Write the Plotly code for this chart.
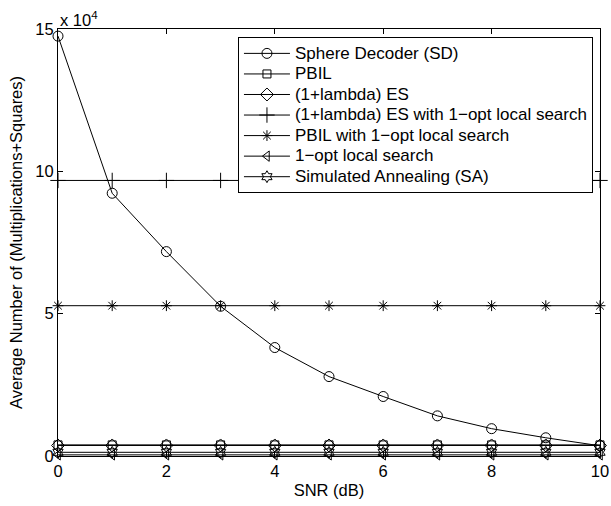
import plotly.graph_objects as go

snr = [0, 1, 2, 3, 4, 5, 6, 7, 8, 9, 10]

sd = [147500, 92300, 71800, 52600, 38100, 27900, 20900, 14100, 9600, 6400, 3600]
pbil = [3900] * 11
es = [3700] * 11
es_1opt = [96800] * 11
pbil_1opt = [52800] * 11
opt1 = [400] * 11
sa = [1300] * 11

names = [
    "Sphere Decoder (SD)",
    "PBIL",
    "(1+lambda) ES",
    "(1+lambda) ES with 1\u2212opt local search",
    "PBIL with 1\u2212opt local search",
    "1\u2212opt local search",
    "Simulated Annealing (SA)",
]
series = [sd, pbil, es, es_1opt, pbil_1opt, opt1, sa]
symbols = ["circle-open", "square-open", "diamond-open", "cross-thin-open",
           "asterisk-open", "triangle-left-open", "hexagram-open"]
sizes = [10, 8, 10, 11, 9, 9, 9]

y_ticks = [0, 50000, 100000, 150000]
y_ticktext = ["0", "5", "10", "15"]
x_ticks = [0, 2, 4, 6, 8, 10]

FONT = "Liberation Sans, Arial, Helvetica, sans-serif"
FS = 16.5

fig = go.Figure()
for nm, ys, sym, sz in zip(names, series, symbols, sizes):
    fig.add_trace(go.Scatter(
        x=snr, y=ys,
        name='<span style="font-size:17px">' + nm + '</span>',
        mode="lines+markers",
        line=dict(color="black", width=1),
        marker=dict(symbol=sym, size=sz, color="black",
                    line=dict(color="black", width=1)),
        cliponaxis=False,
    ))

fig.update_layout(
    width=611, height=506,
    margin=dict(l=58, r=11, t=29, b=50, autoexpand=False),
    paper_bgcolor="white", plot_bgcolor="white",
    font=dict(family=FONT, size=FS, color="black"),
    showlegend=True,
    legend=dict(
        x=0.987, y=0.981, xanchor="right", yanchor="top",
        bgcolor="white", bordercolor="black", borderwidth=1,
        font=dict(family=FONT, size=13.5, color="black"),
        tracegroupgap=0, itemwidth=46,
    ),
    xaxis=dict(
        range=[0, 10], tickvals=x_ticks, ticks="inside", ticklen=5,
        tickcolor="black", showline=True, linecolor="black", linewidth=1,
        mirror="ticks", showgrid=False, zeroline=False,
        title=dict(text="SNR (dB)", standoff=5, font=dict(size=FS)),
        tickfont=dict(size=FS),
    ),
    yaxis=dict(
        range=[0, 150000], tickvals=y_ticks, ticktext=y_ticktext,
        ticks="inside", ticklen=5, tickcolor="black", showline=True,
        linecolor="black", linewidth=1, mirror="ticks", showgrid=False,
        zeroline=False,
        title=dict(text="Average Number of (Multiplications+Squares)",
                   standoff=8, font=dict(size=FS)),
        tickfont=dict(size=FS),
    ),
    annotations=[dict(
        text="x 10<sup>4</sup>", xref="paper", yref="paper", x=0, y=1,
        xanchor="left", yanchor="bottom", showarrow=False,
        font=dict(family=FONT, size=FS, color="black"), yshift=-2,
    )],
)

fig.write_html("out.html")
